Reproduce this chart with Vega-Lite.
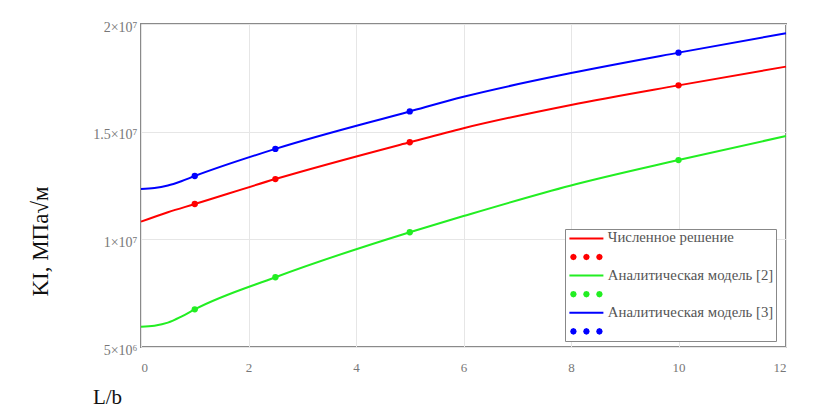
{
  "$schema": "https://vega.github.io/schema/vega-lite/v6.json",
  "width": 645,
  "height": 323,
  "autosize": "none",
  "padding": {"left": 141, "top": 24, "right": 38, "bottom": 60},
  "background": "white",
  "datasets": {
    "curves": [
      {"L": 0, "K": 10820000, "key": "Численное решение"},
      {"L": 0.5, "K": 11260000, "key": "Численное решение"},
      {"L": 1, "K": 11640000, "key": "Численное решение"},
      {"L": 2.5, "K": 12800000, "key": "Численное решение"},
      {"L": 5, "K": 14510000, "key": "Численное решение"},
      {"L": 6, "K": 15160000, "key": "Численное решение"},
      {"L": 8, "K": 16240000, "key": "Численное решение"},
      {"L": 10, "K": 17150000, "key": "Численное решение"},
      {"L": 12, "K": 18020000, "key": "Численное решение"},
      {"L": 0, "K": 5940000, "key": "Аналитическая модель [2]"},
      {"L": 0.25, "K": 5990000, "key": "Аналитическая модель [2]"},
      {"L": 0.5, "K": 6130000, "key": "Аналитическая модель [2]"},
      {"L": 0.75, "K": 6410000, "key": "Аналитическая модель [2]"},
      {"L": 1, "K": 6750000, "key": "Аналитическая модель [2]"},
      {"L": 2.5, "K": 8240000, "key": "Аналитическая модель [2]"},
      {"L": 5, "K": 10330000, "key": "Аналитическая модель [2]"},
      {"L": 6, "K": 11080000, "key": "Аналитическая модель [2]"},
      {"L": 8, "K": 12500000, "key": "Аналитическая модель [2]"},
      {"L": 10, "K": 13680000, "key": "Аналитическая модель [2]"},
      {"L": 12, "K": 14800000, "key": "Аналитическая модель [2]"},
      {"L": 0, "K": 12340000, "key": "Аналитическая модель [3]"},
      {"L": 0.25, "K": 12380000, "key": "Аналитическая модель [3]"},
      {"L": 0.5, "K": 12500000, "key": "Аналитическая модель [3]"},
      {"L": 0.75, "K": 12700000, "key": "Аналитическая модель [3]"},
      {"L": 1, "K": 12940000, "key": "Аналитическая модель [3]"},
      {"L": 2.5, "K": 14200000, "key": "Аналитическая модель [3]"},
      {"L": 5, "K": 15940000, "key": "Аналитическая модель [3]"},
      {"L": 6, "K": 16620000, "key": "Аналитическая модель [3]"},
      {"L": 8, "K": 17720000, "key": "Аналитическая модель [3]"},
      {"L": 10, "K": 18670000, "key": "Аналитическая модель [3]"},
      {"L": 12, "K": 19570000, "key": "Аналитическая модель [3]"}
    ],
    "dots": [
      {"L": 1, "K": 11640000, "key": "dots1"},
      {"L": 2.5, "K": 12800000, "key": "dots1"},
      {"L": 5, "K": 14510000, "key": "dots1"},
      {"L": 10, "K": 17150000, "key": "dots1"},
      {"L": 1, "K": 6750000, "key": "dots2"},
      {"L": 2.5, "K": 8240000, "key": "dots2"},
      {"L": 5, "K": 10330000, "key": "dots2"},
      {"L": 10, "K": 13680000, "key": "dots2"},
      {"L": 1, "K": 12940000, "key": "dots3"},
      {"L": 2.5, "K": 14200000, "key": "dots3"},
      {"L": 5, "K": 15940000, "key": "dots3"},
      {"L": 10, "K": 18670000, "key": "dots3"}
    ]
  },
  "encoding": {
    "x": {
      "field": "L", "type": "quantitative",
      "scale": {"domain": [0, 12], "nice": false},
      "axis": {
        "values": [0, 2, 4, 6, 8, 10, 12],
        "title": "L/b",
        "titleX": -34, "titleY": 50,
        "titleAlign": "center", "titleBaseline": "middle",
        "titleFont": "Liberation Serif", "titleFontSize": 21, "titleFontWeight": "normal", "titleColor": "#111",
        "labelPadding": 14
      }
    },
    "y": {
      "field": "K", "type": "quantitative",
      "scale": {"domain": [5000000, 20000000], "nice": false, "zero": false},
      "axis": {
        "values": [5000000, 10000000, 15000000, 20000000],
        "labelExpr": "datum.value == 20000000 ? '2×10⁷' : datum.value == 15000000 ? '1.5×10⁷' : datum.value == 10000000 ? '1×10⁷' : '5×10⁶'",
        "labelFontSize": 14,
        "title": "KI, МПа√м",
        "titleAngle": 270,
        "titleX": -94, "titleY": 217,
        "titleAlign": "center", "titleBaseline": "alphabetic",
        "titleFont": "Liberation Serif", "titleFontSize": 23, "titleFontWeight": "normal", "titleColor": "#111",
        "labelPadding": 4,
        "labelOffset": 3
      }
    },
    "color": {
      "field": "key", "type": "nominal",
      "scale": {
        "domain": ["Численное решение", "dots1", "Аналитическая модель [2]", "dots2", "Аналитическая модель [3]", "dots3"],
        "range": ["#ff0000", "#ff0000", "#22ee22", "#22ee22", "#0000ff", "#0000ff"]
      },
      "legend": {
        "orient": "none", "legendX": 424, "legendY": 205,
        "title": null,
        "direction": "vertical",
        "padding": 2,
        "strokeColor": "#888",
        "fillColor": "white",
        "symbolSize": 64,
        "symbolStrokeWidth": 2,
        "symbolOffset": 12,
        "labelOffset": 14,
        "labelFont": "Liberation Serif",
        "labelFontSize": 14.8,
        "labelColor": "#555",
        "labelLimit": 300,
        "rowPadding": 2.6,
        "labelExpr": "indexof(datum.label, 'dots') == 0 ? '' : datum.label",
        "encode": {
          "symbols": {
            "update": {
              "shape": {"signal": "indexof(datum.value, 'dots') == 0 ? 'M-2.7,0L-2.86,-0.39L-3.25,-0.55L-3.64,-0.39L-3.8,0L-3.64,0.39L-3.25,0.55L-2.86,0.39ZM0.55,0L0.39,-0.39L0,-0.55L-0.39,-0.39L-0.55,0L-0.39,0.39L0,0.55L0.39,0.39ZM3.8,0L3.64,-0.39L3.25,-0.55L2.86,-0.39L2.7,0L2.86,0.39L3.25,0.55L3.64,0.39Z' : 'M-4.25,0L4.25,0'"},
              "fill": {"scale": "color", "field": "value"},
              "stroke": {"scale": "color", "field": "value"}
            }
          }
        }
      }
    }
  },
  "layer": [
    {
      "data": {"name": "curves"},
      "mark": {"type": "line", "interpolate": "monotone", "strokeWidth": 2}
    },
    {
      "data": {"name": "dots"},
      "mark": {"type": "point", "filled": true, "size": 40, "opacity": 1, "shape": "circle"}
    }
  ],
  "config": {
    "view": {"stroke": "#8a8a8a", "strokeWidth": 2},
    "axis": {
      "domain": false,
      "ticks": false,
      "grid": true,
      "gridColor": "#e6e6e6",
      "gridWidth": 1,
      "labelFont": "Liberation Serif",
      "labelFontSize": 13,
      "labelColor": "#777"
    },
    "legend": {"labelFont": "Liberation Serif"}
  }
}
